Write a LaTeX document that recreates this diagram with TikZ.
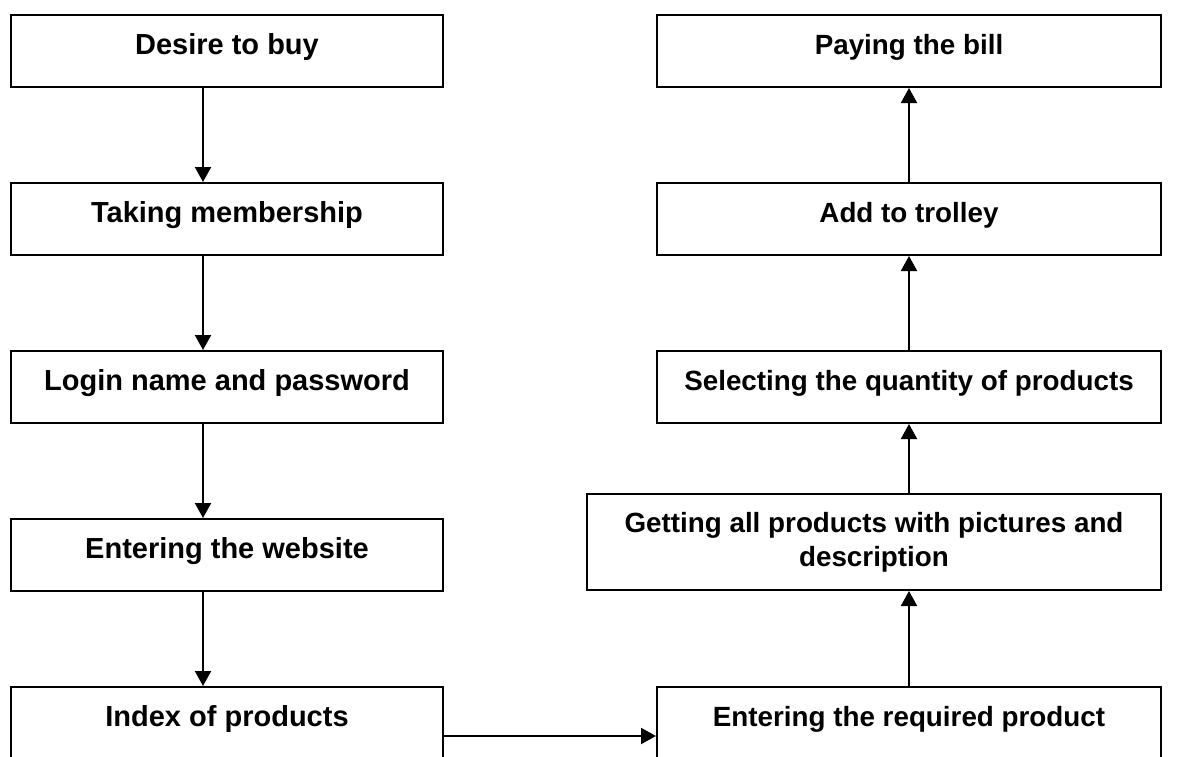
\documentclass[tikz,border=0pt]{standalone}
\usepackage{fontspec}
\setmainfont{Liberation Sans}
\usetikzlibrary{positioning,arrows.meta}

\begin{document}
\begin{tikzpicture}[x=1pt, y=-1pt, node distance=94pt,
    flow block/.style={rectangle, draw, line width=2pt, inner sep=0pt, align=center,
        minimum height=72pt, text height=21pt, text depth=15pt},
    left block/.style={flow block, minimum width=432pt,
        font=\fontsize{29}{34}\selectfont\bfseries},
    right block/.style={flow block, minimum width=504pt,
        font=\fontsize{27.8}{34}\selectfont\bfseries},
    flow arrow/.style={-{Triangle[length=15pt, width=16pt]}, line width=2pt}]

    \clip (0,0) rectangle (1189,756);

    % left column, going down
    \node [left block] (desire) at (227,51) {Desire to buy};
    \node [left block, below=of desire] (member) {Taking membership};
    \node [left block, below=of member] (login) {Login name and password};
    \node [left block, below=of login] (website) {Entering the website};
    \node [left block, below=of website] (index) {Index of products};

    % right column, going up
    \node [right block, right=212pt of index] (required) {Entering the required product};
    \node [right block, above=95pt of required, xshift=-35pt, minimum width=574pt,
        minimum height=96pt, text height=, text depth=] (getting) {Getting all products with pictures and\\description};
    \node [right block, above=69pt of getting, xshift=35pt] (quantity) {Selecting the quantity of products};
    \node [right block, above=of quantity] (trolley) {Add to trolley};
    \node [right block, above=of trolley] (bill) {Paying the bill};

    \draw [flow arrow] ([xshift=-24pt]desire.south) -- ([xshift=-24pt]member.north);
    \draw [flow arrow] ([xshift=-24pt]member.south) -- ([xshift=-24pt]login.north);
    \draw [flow arrow] ([xshift=-24pt]login.south) -- ([xshift=-24pt]website.north);
    \draw [flow arrow] ([xshift=-24pt]website.south) -- ([xshift=-24pt]index.north);

    \draw [flow arrow] ([yshift=-13pt]index.east) -- ([yshift=-13pt]required.west);

    \draw [flow arrow] (required.north) -- (required.north |- getting.south);
    \draw [flow arrow] (quantity.south |- getting.north) -- (quantity.south);
    \draw [flow arrow] (quantity) -- (trolley);
    \draw [flow arrow] (trolley) -- (bill);

\end{tikzpicture}
\end{document}
